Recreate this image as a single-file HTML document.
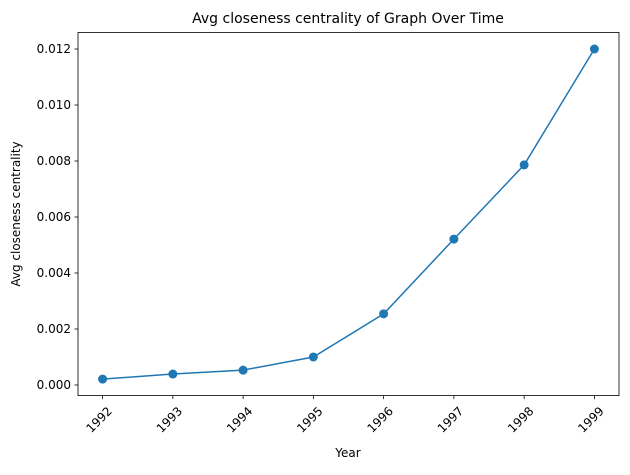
<!DOCTYPE html>
<html><head><meta charset="utf-8"><style>
body{margin:0;background:#fff;}
svg text{font-family:"DejaVu Sans","Liberation Sans",sans-serif;fill:#000;}
</style></head><body>
<svg id="chart" width="630" height="470" xmlns="http://www.w3.org/2000/svg">
<text x="348" y="23" font-size="14" text-anchor="middle">Avg closeness centrality of Graph Over Time</text>
<text x="348" y="457" font-size="12" text-anchor="middle">Year</text>
<text transform="translate(20,214) rotate(-90)" font-size="12" text-anchor="middle">Avg closeness centrality</text>
<g id="axes"></g>
</svg>
<script>
const years = [1992,1993,1994,1995,1996,1997,1998,1999];
const values = [0.00021,0.00039,0.00053,0.001,0.00254,0.00521,0.00786,0.012];
const yTicks = [0,0.002,0.004,0.006,0.008,0.010,0.012];
const yTickLabels = ["0.000","0.002","0.004","0.006","0.008","0.010","0.012"];

const L=78,R=619,T=32.5,B=395.6;
const NS="http://www.w3.org/2000/svg";
const g=document.getElementById('axes');
const xmin=Math.min(...years),xmax=Math.max(...years);
const xpad=(xmax-xmin)*0.05;
const vmin=Math.min(...values),vmax=Math.max(...values);
const ypad=(vmax-vmin)*0.05;
const x=v=>L+(v-(xmin-xpad))/((xmax+xpad)-(xmin-xpad))*(R-L);
const y=v=>B-(v-(vmin-ypad))/((vmax+ypad)-(vmin-ypad))*(B-T);
function mk(t,a){const e=document.createElementNS(NS,t);for(const k in a)e.setAttribute(k,a[k]);g.appendChild(e);return e;}

const frame=mk('rect',{x:L,y:T,width:R-L,height:B-T,fill:'none',stroke:'#000','stroke-width':0.8});



yTicks.forEach((v,i)=>{
  const tk=mk('line',{x1:L-3.5,x2:L,y1:y(v),y2:y(v),stroke:'#000','stroke-width':0.8});
  
  
  const t=mk('text',{x:L-7,y:y(v)+4,'font-size':12,'text-anchor':'end'});
  t.textContent=yTickLabels[i];
  
  
});
years.forEach(v=>{
  const tk=mk('line',{x1:x(v),x2:x(v),y1:B,y2:B+3.5,stroke:'#000','stroke-width':0.8});
  
  
  const t=mk('text',{transform:`translate(${x(v)+4},${B+10}) rotate(-45)`,'font-size':12,'text-anchor':'end','dominant-baseline':'hanging'});
  t.textContent=String(v);
  
  
});
const line=mk('polyline',{points:years.map((v,i)=>x(v)+','+y(values[i])).join(' '),fill:'none',stroke:'#1f77b4','stroke-width':1.5});


years.forEach((v,i)=>{
  const c=mk('circle',{cx:x(v),cy:y(values[i]),r:4.5,fill:'#1f77b4'});
  
  
});
</script>
</body></html>
